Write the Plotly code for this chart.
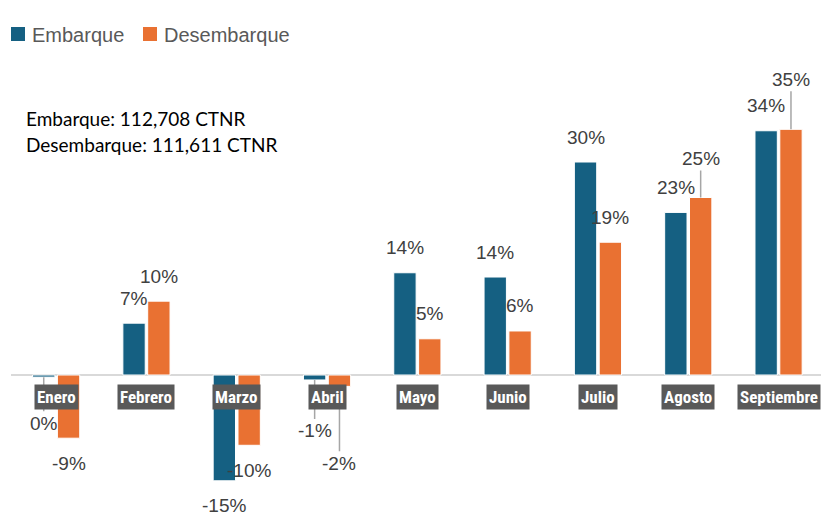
import plotly.graph_objects as go

categories = ["Enero", "Febrero", "Marzo", "Abril", "Mayo", "Junio", "Julio", "Agosto", "Septiembre"]
embarque = [-0.3, 7.3, -14.9, -0.7, 14.4, 13.8, 30.0, 22.9, 34.4]
desembarque = [-8.9, 10.4, -9.9, -1.6, 5.1, 6.2, 18.7, 25.0, 34.6]
series_names = ["Embarque", "Desembarque"]
note_lines = ["Embarque: 112,708 CTNR", "Desembarque: 111,611 CTNR"]

C_E = "#156082"
C_D = "#E97132"

W, H = 821, 515
ML, MR, MT, MB = 11, 0, 60, 0
PW, PH = W - ML - MR, H - MT - MB

def px_x(x):
    return (x - ML) / PW

def px_y(y):
    return (H - MB - y) / PH

# label placement (pixel offsets from bar end; leader=True draws a leader line)
emb_off = [(46, True), (25, False), (25, False), (51, True), (25, False), (25, False), (25, False), (25, False), (25, False)]
des_off = [(25, False), (25, False), (25, False), (77, True), (25, False), (25, False), (25, False), (39, True), (50, True)]

fig = go.Figure()
fig.add_trace(go.Bar(x=list(range(len(categories))), y=embarque, name=series_names[0],
                     marker=dict(color=C_E, line=dict(color="white", width=1))))
fig.add_trace(go.Bar(x=list(range(len(categories))), y=desembarque, name=series_names[1],
                     marker=dict(color=C_D, line=dict(color="white", width=1))))

def pct(v):
    return f"{int(round(v))}%"

label_font = dict(family="Liberation Sans, Arial, sans-serif", size=19, color="#404040")
annotations = []
OFF = 0.1375
for series, offs, sgn in ((embarque, emb_off, -1), (desembarque, des_off, 1)):
    for i, v in enumerate(series):
        d, leader = offs[i]
        direction = 1 if v >= 0 else -1
        x = i + sgn * OFF
        if leader:
            annotations.append(dict(x=x, y=v, xref="x", yref="y", text=pct(v), showarrow=True,
                                    arrowhead=0, arrowwidth=1.5, arrowcolor="#a6a6a6",
                                    ax=0, ay=-direction * d, standoff=0, font=label_font))
        else:
            annotations.append(dict(x=x, y=v, xref="x", yref="y", text=pct(v), showarrow=False,
                                    yshift=direction * d, font=label_font))

for i, c in enumerate(categories):
    annotations.append(dict(x=i, y=0, xref="x", yref="y", text=f"<b>{c}</b>", showarrow=False,
                            yshift=-22, bgcolor="#595959", borderpad=2,
                            font=dict(family="Liberation Sans Narrow, Roboto Condensed, Roboto, sans-serif",
                                      size=17, color="white")))

for k, line in enumerate(note_lines):
    annotations.append(dict(x=px_x(24), y=px_y(118 + 26 * k), xref="paper", yref="paper", text=line,
                            showarrow=False, xanchor="left", yanchor="middle",
                            font=dict(family="Lato, Noto Sans, sans-serif", size=19, color="#000000")))

# custom legend
shapes = []
legend_items = [(11, 31, C_E), (143, 163, C_D)]
for (sx, tx, col), name in zip(legend_items, series_names):
    shapes.append(dict(type="rect", xref="paper", yref="paper",
                       x0=px_x(sx), x1=px_x(sx + 14), y0=px_y(41), y1=px_y(27),
                       fillcolor=col, line=dict(width=0)))
    annotations.append(dict(x=px_x(tx - 1), y=px_y(35), xref="paper", yref="paper", text=name,
                            showarrow=False, xanchor="left", yanchor="middle",
                            font=dict(family="Liberation Sans, Arial, sans-serif", size=20, color="#595959")))

px_per = 7.1
ytop = (375 - MT) / px_per
ybot = ytop - PH / px_per

fig.update_layout(
    width=W, height=H,
    margin=dict(l=ML, r=MR, t=MT, b=MB),
    paper_bgcolor="white", plot_bgcolor="white",
    barmode="group", bargap=0.45, bargroupgap=0.1,
    showlegend=False,
    xaxis=dict(range=[-0.5, 8.47], showticklabels=False, showgrid=False, zeroline=False,
               showline=False, ticks=""),
    yaxis=dict(range=[ybot, ytop], showticklabels=False, showgrid=False, zeroline=True,
               zerolinecolor="#d9d9d9", zerolinewidth=2, showline=False),
    annotations=annotations,
    shapes=shapes,
)

fig.write_html("out.html", config={"displayModeBar": False},
               post_script="document.body.style.margin='0';document.body.style.overflow='hidden';")
